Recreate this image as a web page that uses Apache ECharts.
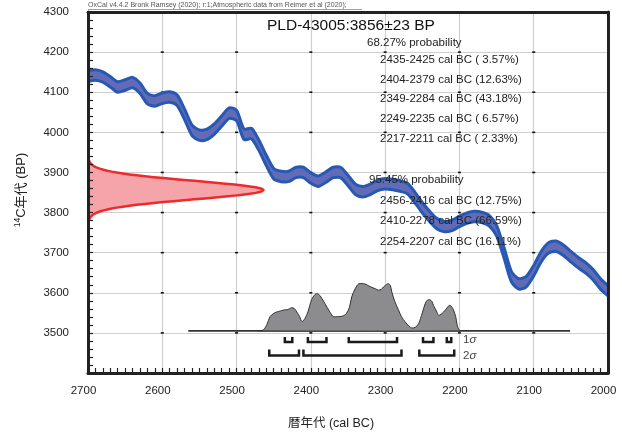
<!DOCTYPE html>
<html>
<head>
<meta charset="utf-8">
<script src="https://cdn.jsdelivr.net/npm/echarts@6/dist/echarts.min.js"></script>
<style>html,body{margin:0;padding:0;background:#fff}#c{width:622px;height:434px}</style>
</head>
<body>
<div id="c"></div>
<script>
// Calibration curve (IntCal20): calendar year (cal BC), mean 14C age (BP) and 1-sigma
const calYears = [2700,2690,2680,2670,2660,2650,2640,2630,2620,2610,2600,2590,2580,2570,2560,2550,2540,2530,2520,2510,2500,2490,2480,2470,2460,2450,2440,2430,2420,2410,2400,2390,2380,2370,2360,2350,2340,2330,2320,2310,2300,2290,2280,2270,2260,2250,2240,2230,2220,2210,2200,2190,2180,2170,2160,2150,2140,2130,2120,2110,2100,2090,2080,2070,2060,2050,2040,2030,2020,2010,2000];
const calMean = [4140,4143,4138,4126,4113,4118,4124,4110,4084,4078,4085,4088,4080,4045,4005,3993,3995,4008,4028,4048,4042,3995,3997,3968,3930,3897,3890,3890,3900,3900,3886,3878,3888,3900,3900,3880,3858,3852,3858,3868,3872,3870,3866,3860,3838,3812,3790,3772,3765,3768,3778,3786,3790,3788,3780,3755,3700,3640,3622,3628,3655,3690,3712,3716,3706,3690,3675,3662,3645,3622,3605];
const calSigma = [13,13,13,13,13,13,13,13,13,13,13,13,13,13,13,13,13,13,13,13,13,13,13,13,13,13,13,13,13,13,13,13,13,13,13,13,13,13,13,13,13,13,13,13,13,13,13,13,13,13,13,13,13,13,13,13,13,13,13,13,13,13,13,13,13,13,13,13,13,13,13];

// Radiocarbon measurement
const sampleName = 'PLD-43005';
const sampleAge = 3856;
const sampleError = 23;

// Calibrated age probability (relative density)
const probYears = [2470,2464,2459,2455,2450,2446,2441,2437,2431,2426,2422,2419,2415,2412,2408,2404,2399,2395,2392,2388,2385,2380,2376,2372,2370,2364,2358,2355,2352,2348,2345,2340,2336,2331,2327,2322,2318,2313,2309,2305,2302,2299,2296,2293,2291,2287,2282,2278,2273,2268,2264,2259,2255,2250,2246,2243,2240,2237,2235,2231,2228,2224,2219,2215,2213,2210,2208,2205,2203,2201,2199];
const probDensity = [0,0.02,0.14,0.30,0.37,0.40,0.42,0.44,0.45,0.49,0.47,0.40,0.30,0.20,0.26,0.40,0.66,0.76,0.79,0.75,0.68,0.55,0.44,0.34,0.30,0.30,0.31,0.33,0.37,0.50,0.72,0.90,0.99,1.0,0.99,0.95,0.92,0.89,0.86,0.88,0.93,0.97,1.0,0.96,0.82,0.62,0.44,0.30,0.19,0.10,0.06,0.08,0.15,0.38,0.58,0.65,0.66,0.62,0.54,0.42,0.33,0.36,0.44,0.52,0.54,0.50,0.44,0.30,0.12,0.03,0];
const probBaseline = 3505;
const probBaselineSpan = [2565, 2051];

// Highest probability density ranges: [from, to, percent]
const oneSigmaRanges = [[2435,2425,3.57],[2404,2379,12.63],[2349,2284,43.18],[2249,2235,6.57],[2217,2211,2.33]];
const twoSigmaRanges = [[2456,2416,12.75],[2410,2278,66.59],[2254,2207,16.11]];

// Axes
const xMin = 2000, xMax = 2700, xStep = 100;
const yMin = 3400, yMax = 4300, yStep = 100;
const xGridValues = [2600,2500,2400,2300,2200,2100];
const yGridValues = [3500,3600,3700,3800,3900,4000,4100,4200];

const FONT = '"Liberation Sans", "Noto Sans CJK JP", sans-serif';
const INK = '#222';

const chart = echarts.init(document.getElementById('c'), null, {renderer: 'canvas'});

function fmtPct(p) {
  const s = p.toFixed(2);
  return s.length < 5 ? ' ' + s : s;
}
function rangeText(r) {
  return r[0] + '-' + r[1] + ' cal BC (' + fmtPct(r[2]) + '%)';
}

// Calibration band: filled ribbon with outlined edges
function renderBand(params, api) {
  const up = calYears.map((y, i) => api.coord([y, calMean[i] + calSigma[i]]));
  const lo = calYears.map((y, i) => api.coord([y, calMean[i] - calSigma[i]]));
  const edge = {stroke: '#2758b3', lineWidth: 3, fill: null, lineJoin: 'round', lineCap: 'round'};
  return {
    type: 'group',
    children: [
      {type: 'polygon', shape: {points: up.concat(lo.slice().reverse()), smooth: 0.25}, style: {fill: '#626cb6'}},
      {type: 'polyline', shape: {points: up, smooth: 0.25}, style: edge},
      {type: 'polyline', shape: {points: lo, smooth: 0.25}, style: edge}
    ]
  };
}

// Measured age as a normal distribution on the 14C axis
function renderMeasurement(params, api) {
  const peakWidth = 236; // horizontal extent of the peak, in years
  const pts = [];
  for (let k = -34; k <= 34; k++) {
    const z = k / 10;
    const bp = sampleAge + z * sampleError;
    pts.push(api.coord([xMax - peakWidth * Math.exp(-0.5 * z * z), bp]));
  }
  const closed = [api.coord([xMax, sampleAge - 3.4 * sampleError])].concat(pts, [api.coord([xMax, sampleAge + 3.4 * sampleError])]);
  return {
    type: 'group',
    children: [
      {type: 'polygon', shape: {points: closed}, style: {fill: '#f5a5aa'}},
      {type: 'polyline', shape: {points: pts}, style: {stroke: '#ee2a2a', lineWidth: 2.5, fill: null}}
    ]
  };
}

// Calibrated distribution on the baseline and the sigma range brackets
function renderCalibrated(params, api) {
  const base = api.coord([xMax, probBaseline])[1];
  const top = api.coord([xMax, probBaseline + 118])[1];
  const h = base - top;
  const pts = probYears.map((y, i) => [api.coord([y, probBaseline])[0], base - probDensity[i] * h]);
  const children = [
    {type: 'line', shape: {x1: api.coord([probBaselineSpan[0], probBaseline])[0], y1: base, x2: api.coord([probBaselineSpan[1], probBaseline])[0], y2: base},
     style: {stroke: '#333', lineWidth: 1.6}},
    {type: 'polygon', shape: {points: pts, smooth: 0.3}, style: {fill: '#8c8c8e', stroke: '#333', lineWidth: 1}}
  ];
  function bracket(r, lineOff, tickOff) {
    const xa = api.coord([r[0], probBaseline])[0];
    const xb = api.coord([r[1], probBaseline])[0];
    children.push({type: 'polyline', shape: {points: [[xa, base + tickOff], [xa, base + lineOff], [xb, base + lineOff], [xb, base + tickOff]]},
      style: {stroke: '#1a1a1a', lineWidth: 2.5, fill: null}});
  }
  oneSigmaRanges.forEach(r => bracket(r, 11, 6));
  twoSigmaRanges.forEach(r => bracket(r, 24.5, 18.5));
  return {type: 'group', children: children};
}

// Small marks at grid intersections
function renderCrossings(params, api) {
  const children = [];
  xGridValues.forEach(x => yGridValues.forEach(y => {
    const p = api.coord([x, y]);
    children.push({type: 'rect', shape: {x: p[0] - 1.5, y: p[1] - 0.8, width: 3, height: 1.6}, style: {fill: '#111'}});
  }));
  return {type: 'group', children: children};
}

const plainNumber = v => String(v);
const gridRect = {left: 88, right: 14, top: 12, bottom: 61};
const baseX = {type: 'value', min: xMin, max: xMax, interval: xStep, inverse: true, gridIndex: 0};
const baseY = {type: 'value', min: yMin, max: yMax, interval: yStep, gridIndex: 0};

const textLines = [];
const lineStyleText = {fontFamily: FONT, fontSize: 11.5, fill: INK};
textLines.push({type: 'text', left: 367, top: 37, style: Object.assign({text: '68.27% probability'}, lineStyleText)});
const oneY = [61, 81, 100.5, 120, 140];
oneSigmaRanges.forEach((r, i) => textLines.push({type: 'text', left: 380, top: oneY[i] - 7, style: Object.assign({text: rangeText(r)}, lineStyleText)}));
textLines.push({type: 'text', left: 369, top: 174.5, style: Object.assign({text: '95.45% probability'}, lineStyleText)});
const twoY = [202, 222.5, 243];
twoSigmaRanges.forEach((r, i) => textLines.push({type: 'text', left: 380, top: twoY[i] - 7, style: Object.assign({text: rangeText(r)}, lineStyleText)}));

const option = {
  backgroundColor: '#fff',
  animation: false,
  grid: gridRect,
  xAxis: [
    Object.assign({}, baseX, {position: 'bottom', axisLine: {show: false}, axisTick: {show: false}, axisLabel: {show: false},
      splitLine: {show: true, lineStyle: {color: '#cfcfcf', width: 1.2}}, z: 0}),
    Object.assign({}, baseX, {position: 'bottom', z: 6,
      axisLine: {show: true, lineStyle: {color: INK, width: 3}},
      axisTick: {show: true, inside: true, length: 5, lineStyle: {color: INK, width: 1.2}},
      minorTick: {show: true, splitNumber: 10, length: 5, lineStyle: {color: INK, width: 1.2}},
      axisLabel: {show: true, margin: 12, color: INK, fontFamily: FONT, fontSize: 11.5, padding: [0, 9, 0, 0], formatter: plainNumber},
      splitLine: {show: false}}),
    Object.assign({}, baseX, {position: 'top', z: 6,
      axisLine: {show: true, lineStyle: {color: INK, width: 3}}, axisTick: {show: false}, axisLabel: {show: false}, splitLine: {show: false}})
  ],
  yAxis: [
    Object.assign({}, baseY, {position: 'left', axisLine: {show: false}, axisTick: {show: false}, axisLabel: {show: false},
      splitLine: {show: true, lineStyle: {color: '#cfcfcf', width: 1.2}}, z: 0}),
    Object.assign({}, baseY, {position: 'left', z: 6,
      axisLine: {show: true, lineStyle: {color: INK, width: 3}},
      axisTick: {show: true, inside: true, length: 5, lineStyle: {color: INK, width: 1.2}},
      minorTick: {show: true, splitNumber: 5, length: 5, lineStyle: {color: INK, width: 1.2}},
      axisLabel: {show: true, showMinLabel: false, margin: 19, color: INK, fontFamily: FONT, fontSize: 11.5, formatter: plainNumber},
      splitLine: {show: false}}),
    Object.assign({}, baseY, {position: 'right', z: 6,
      axisLine: {show: true, lineStyle: {color: INK, width: 3}}, axisTick: {show: false}, axisLabel: {show: false}, splitLine: {show: false}})
  ],
  series: [
    {type: 'custom', clip: true, z: 1, data: [[2350, 3850]], encode: {x: 0, y: 1}, renderItem: renderCrossings, silent: true},
    {type: 'custom', clip: true, z: 2, data: [[2350, 3850]], encode: {x: 0, y: 1}, renderItem: renderCalibrated, silent: true},
    {type: 'custom', clip: true, z: 3, data: [[2350, 3850]], encode: {x: 0, y: 1}, renderItem: renderMeasurement, silent: true},
    {type: 'custom', clip: true, z: 4, data: [[2350, 3850]], encode: {x: 0, y: 1}, renderItem: renderBand, silent: true}
  ],
  graphic: [
    {type: 'text', left: 88, top: 2, z: 50, style: {text: 'OxCal v4.4.2 Bronk Ramsey (2020); r:1;Atmospheric data from Reimer et al (2020);', fontFamily: FONT, fontSize: 7, fill: '#555'}},
    {type: 'line', z: 50, shape: {x1: 88, y1: 9.5, x2: 362, y2: 9.5}, style: {stroke: '#777', lineWidth: 0.7}},
    {type: 'text', left: 267, top: 18, z: 50, style: {text: sampleName + ':' + sampleAge + '±' + sampleError + ' BP', fontFamily: FONT, fontSize: 15.5, fill: '#111'}},
    {type: 'text', left: 463, top: 334, z: 50, style: {text: '1{i|σ}', fontFamily: FONT, fontSize: 11.5, fill: '#444', rich: {i: {fontStyle: 'italic', fontFamily: FONT, fontSize: 11.5, fill: '#444'}}}},
    {type: 'text', left: 463, top: 350, z: 50, style: {text: '2{i|σ}', fontFamily: FONT, fontSize: 11.5, fill: '#444', rich: {i: {fontStyle: 'italic', fontFamily: FONT, fontSize: 11.5, fill: '#444'}}}},
    {type: 'text', x: 331, y: 424, z: 50, style: {text: '暦年代 (cal BC)', fontFamily: FONT, fontSize: 12.5, fill: INK, align: 'center', verticalAlign: 'middle'}},
    {type: 'text', x: 21, y: 190, rotation: Math.PI / 2, z: 50,
     style: {text: '{s|14}{n|C年代 (BP)}', align: 'center', verticalAlign: 'middle',
       rich: {s: {fontFamily: FONT, fontSize: 8.5, fill: INK, verticalAlign: 'top', lineHeight: 16},
              n: {fontFamily: FONT, fontSize: 13, fill: INK, lineHeight: 16}}}}
  ].concat(textLines.map(t => Object.assign({z: 50}, t)))
};

chart.setOption(option);
</script>
</body>
</html>
